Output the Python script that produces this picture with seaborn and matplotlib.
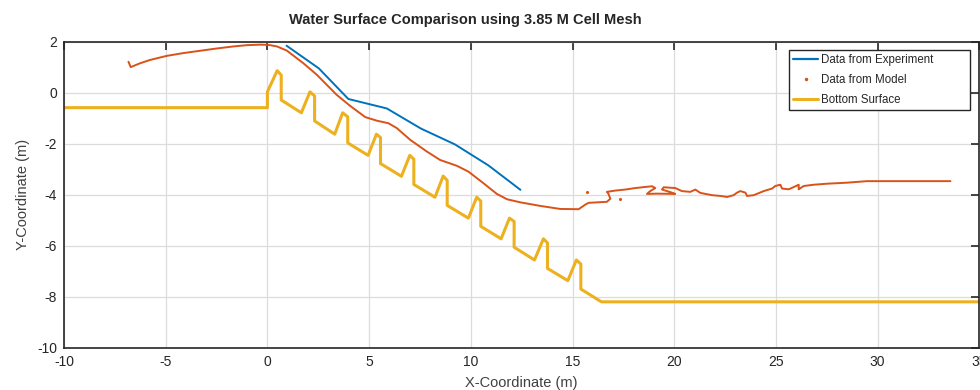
import numpy as np
import pandas as pd
import matplotlib
matplotlib.use('Agg')
import matplotlib.pyplot as plt
import seaborn as sns
from matplotlib.lines import Line2D

# Data
exp_x = [0.94, 2.53, 3.98, 5.87, 7.55, 9.22, 10.86, 12.44]
exp_y = [1.85, 0.96, -0.24, -0.61, -1.40, -2.02, -2.84, -3.80]

model_x = [-6.83, -6.72, -6.26, -5.77, -4.95, -4.13, -3.31, -2.49, -1.67, -1.01, -0.35,
           0.06, 0.47, 0.95, 1.77, 2.43, 3.41, 4.07, 4.81, 5.38, 5.95, 6.36, 7.02,
           7.84, 8.49, 9.32, 9.89, 10.62, 11.28, 11.78, 12.43, 13.41, 14.40, 15.30,
           15.63, 15.79, 16.69, 16.86, 16.77, 16.69, 17.10, 17.59, 18.09, 18.91, 19.07,
           18.82, 18.66, 19.15, 20.05, 19.81, 19.40, 19.48, 20.05, 20.38, 20.79, 21.04,
           21.28, 21.86, 22.27, 22.60, 22.92, 23.09, 23.25, 23.50, 23.58, 23.91, 24.40,
           24.81, 24.97, 25.22, 25.30, 25.63, 25.88, 26.12, 26.12, 26.37, 26.86, 27.52,
           28.50, 29.48, 33.58]
model_y = [1.22, 1.01, 1.16, 1.29, 1.45, 1.56, 1.65, 1.74, 1.82, 1.87, 1.89,
           1.88, 1.82, 1.66, 1.16, 0.71, -0.08, -0.51, -0.95, -1.09, -1.19, -1.38, -1.84,
           -2.30, -2.63, -2.86, -3.09, -3.54, -3.96, -4.17, -4.29, -4.43, -4.55, -4.56,
           -4.38, -4.31, -4.27, -4.15, -3.96, -3.88, -3.83, -3.79, -3.73, -3.66, -3.73,
           -3.85, -3.96, -3.95, -3.96, -3.89, -3.79, -3.70, -3.73, -3.85, -3.88, -3.79,
           -3.92, -4.01, -4.04, -4.08, -4.01, -3.91, -3.85, -3.91, -4.04, -4.01, -3.85,
           -3.75, -3.65, -3.60, -3.75, -3.78, -3.69, -3.60, -3.78, -3.65, -3.60, -3.56,
           -3.52, -3.46, -3.46]
stray_x = [15.71, 17.35]
stray_y = [-3.89, -4.17]

bed_x = [-10, 0.00, 0.00, 0.48, 0.68, 0.68, 1.67, 2.09, 2.32, 2.32, 3.31, 3.70, 3.95,
         3.95, 4.95, 5.36, 5.56, 5.56, 6.59, 7.00, 7.20, 7.20, 8.24, 8.64, 8.84,
         8.84, 9.88, 10.29, 10.49, 10.49, 11.49, 11.90, 12.13, 12.13, 13.13, 13.57,
         13.77, 13.77, 14.77, 15.19, 15.41, 15.41, 16.42, 35]
bed_y = [-0.58, -0.58, 0.04, 0.87, 0.70, -0.28, -0.78, 0.04, -0.12, -1.10, -1.62,
         -0.78, -0.94, -1.96, -2.45, -1.62, -1.75, -2.77, -3.27, -2.45, -2.60, -3.59,
         -4.09, -3.26, -3.43, -4.41, -4.91, -4.09, -4.24, -5.23, -5.72, -4.91, -5.04,
         -6.05, -6.55, -5.72, -5.88, -6.88, -7.36, -6.55, -6.71, -7.69, -8.19, -8.19]

blue = '#0072BD'
red = '#D95319'
gold = '#EDB120'

sns.set_style('white')
plt.rcParams['font.family'] = ['Liberation Sans', 'DejaVu Sans']
plt.rcParams['axes.unicode_minus'] = False

fig = plt.figure(figsize=(9.8, 3.9), dpi=100)
ax = fig.add_axes([0.0653, 0.1077, 0.934, 0.785])

sns.lineplot(x=bed_x, y=bed_y, sort=False, estimator=None, color=gold, linewidth=2.2, ax=ax)
sns.lineplot(x=model_x, y=model_y, sort=False, estimator=None, color=red, linewidth=1.4, ax=ax)
sns.scatterplot(x=stray_x, y=stray_y, color=red, s=5, linewidth=0, ax=ax)
sns.lineplot(x=exp_x, y=exp_y, sort=False, estimator=None, color=blue, linewidth=1.4, ax=ax)

ax.set_xlim(-10, 35)
ax.set_ylim(-10, 2)
ax.set_xticks(np.arange(-10, 36, 5))
ax.set_yticks(np.arange(-10, 3, 2))
ax.grid(True, color='#dcdcdc', linewidth=0.9)
ax.set_axisbelow(True)
for s in ax.spines.values():
    s.set_visible(True)
    s.set_color('#262626')
    s.set_linewidth(1.2)
ax.tick_params(direction='in', length=6, width=1.2, color='#262626', top=True, right=True,
               labelsize=10, labelcolor='#262626', pad=5)

ax.set_xlabel('X-Coordinate (m)', fontsize=10.5, color='#404040', labelpad=5)
ax.set_ylabel('Y-Coordinate (m)', fontsize=10.5, color='#404040', labelpad=5)
ax.set_title('Water Surface Comparison using 3.85 M Cell Mesh', fontsize=10.5,
             fontweight='bold', x=0.438, pad=13)

handles = [Line2D([], [], color=blue, linewidth=1.6),
           Line2D([], [], color=red, linestyle='none', marker='.', markersize=3),
           Line2D([], [], color=gold, linewidth=2.2)]
labels = ['Data from Experiment', 'Data from Model', 'Bottom Surface']
leg = ax.legend(handles, labels, loc='upper left', bbox_to_anchor=(0.792, 0.778, 0.198, 0.196),
                mode='expand', fontsize=8.3, frameon=True, fancybox=False, handlelength=2.2,
                handletextpad=0.2, borderpad=0.35, labelspacing=0.7, borderaxespad=0)
leg.get_frame().set_edgecolor('#262626')
leg.get_frame().set_linewidth(1.0)
leg.get_frame().set_alpha(1)

fig.savefig('out.png', dpi=100)
